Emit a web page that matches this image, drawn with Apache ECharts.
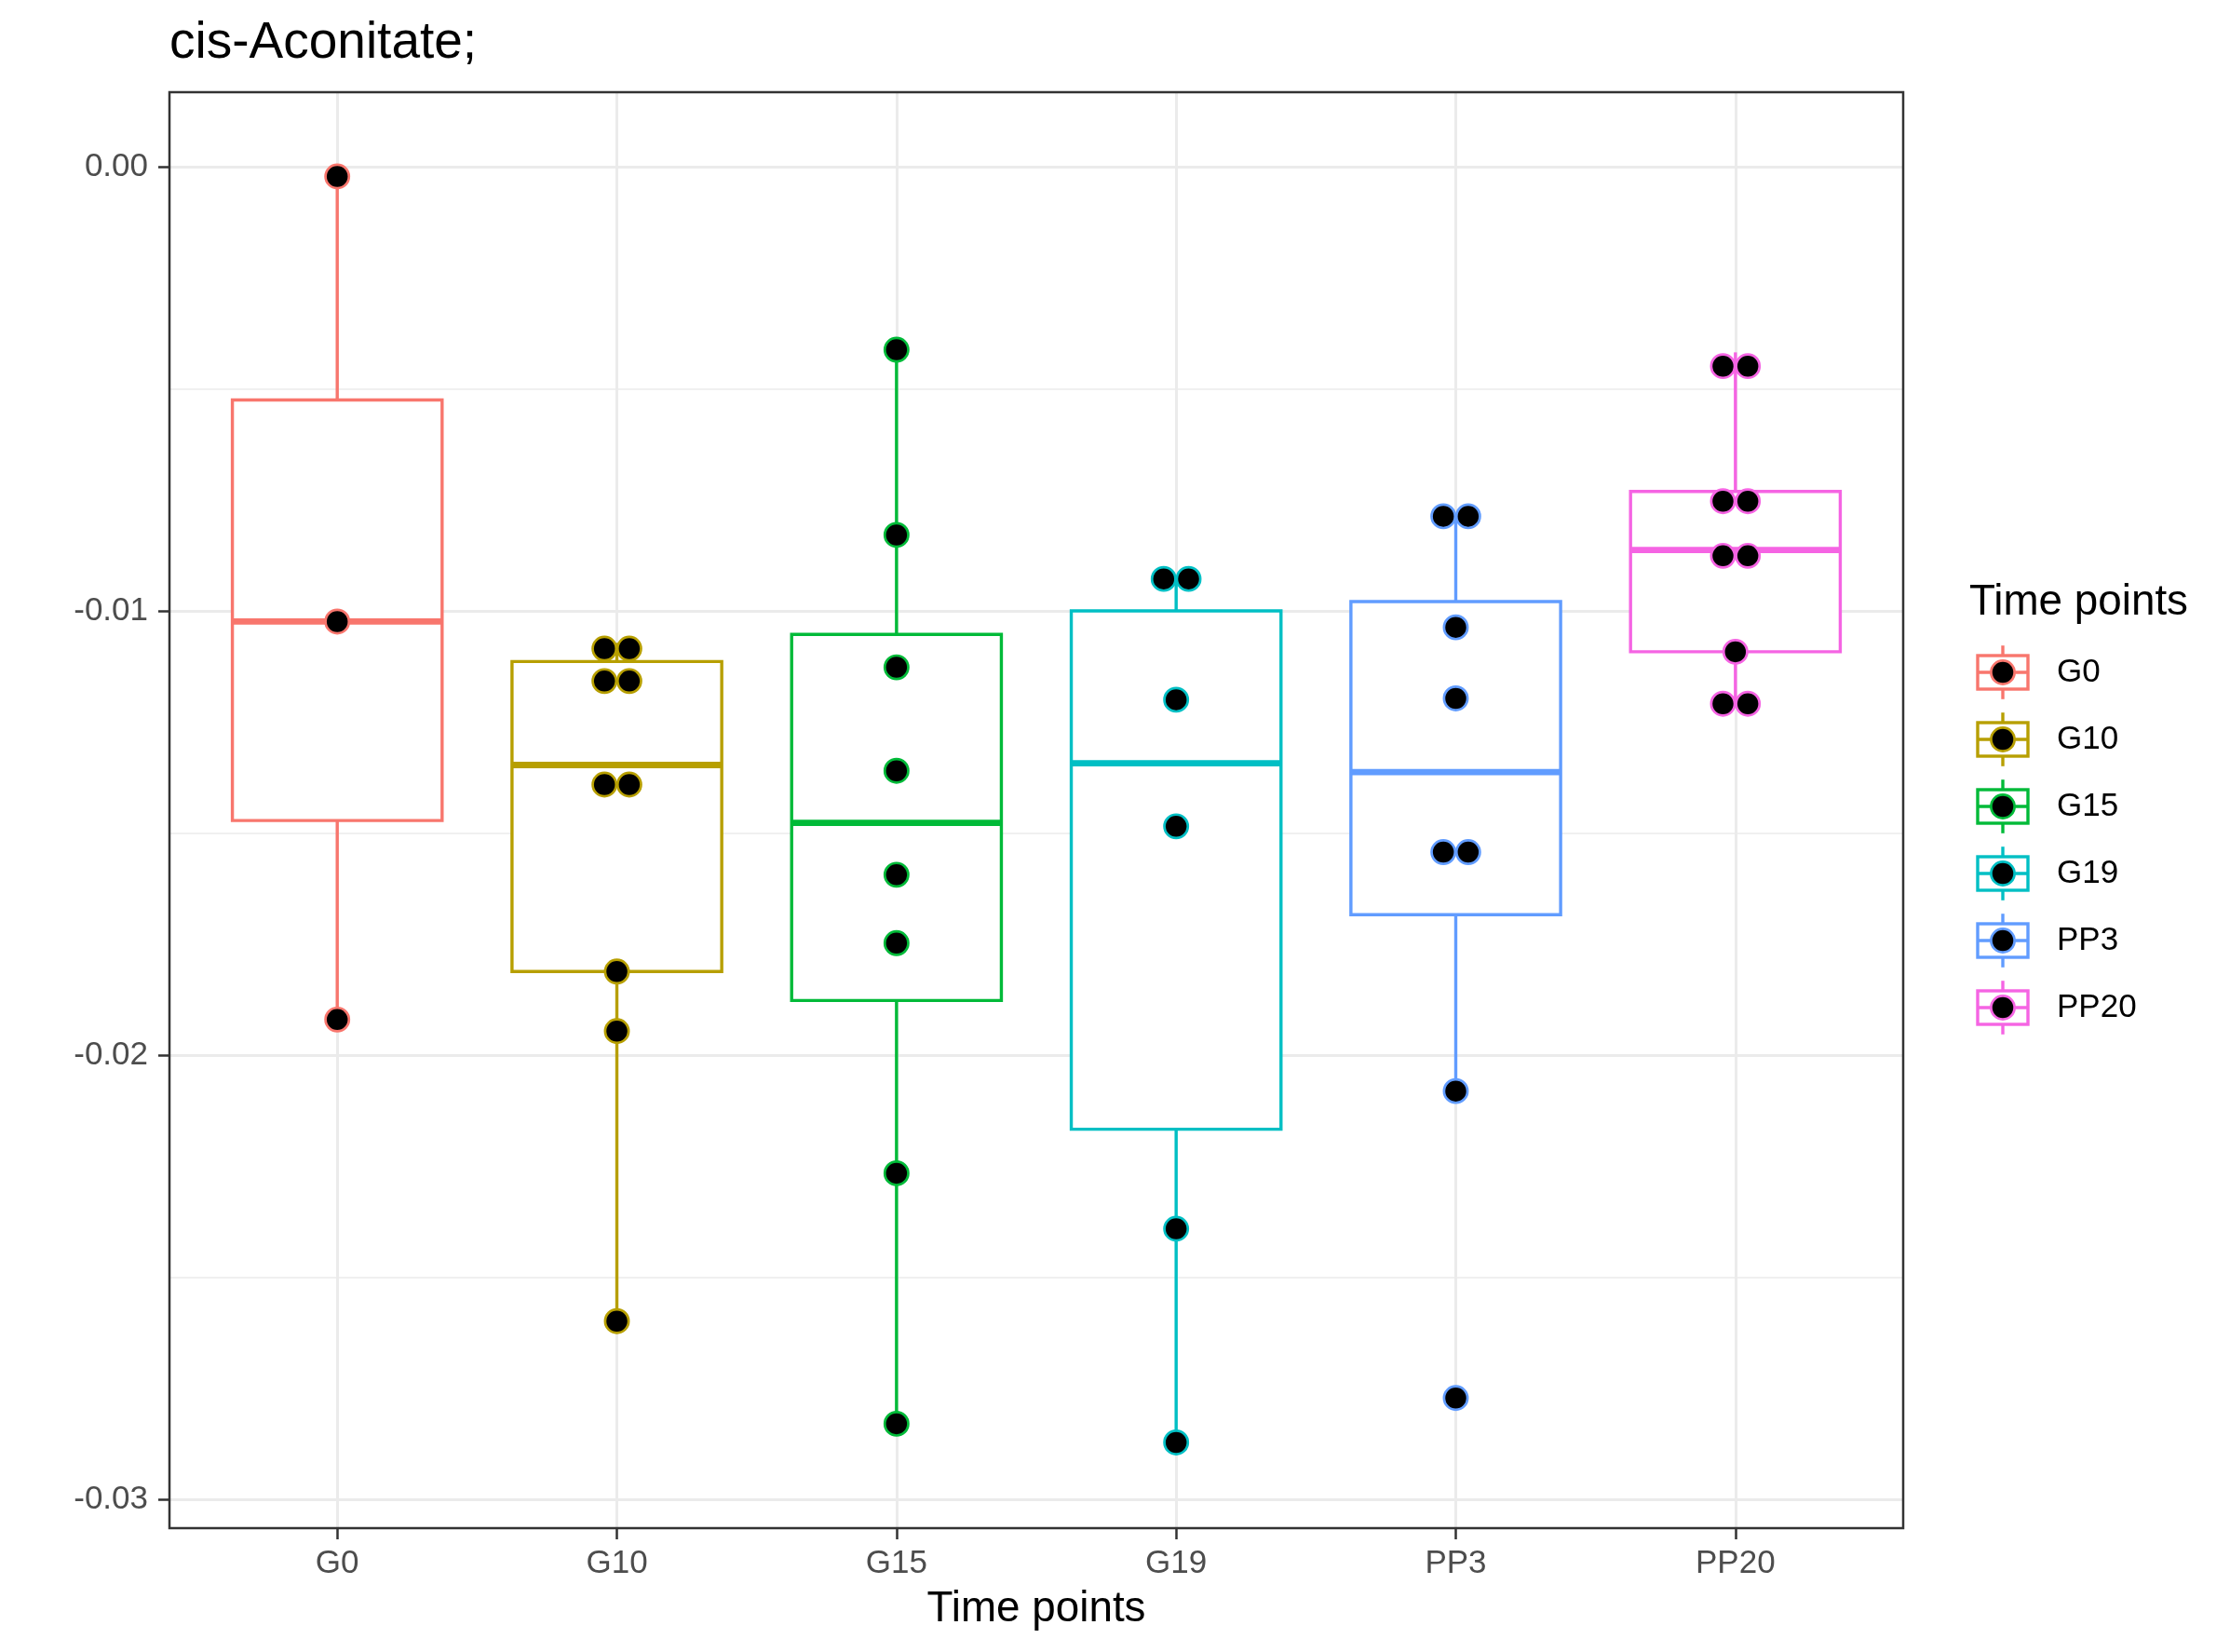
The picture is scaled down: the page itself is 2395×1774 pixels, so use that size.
<!DOCTYPE html>
<html><head><meta charset="utf-8">
<script src="https://cdn.jsdelivr.net/npm/echarts@6/dist/echarts.min.js"></script>
<style>html,body{margin:0;padding:0;background:#fff}#c{width:2395px;height:1774px}</style>
</head><body><div id="c"></div><script>
// ---------- data ----------
const categories = ['G0', 'G10', 'G15', 'G19', 'PP3', 'PP20'];
const colors = ['#F8766D', '#B79F00', '#00BA38', '#00BFC4', '#619CFF', '#F564E3'];
// box statistics per category
const whiskerHigh = [-0.00022, -0.01072, -0.00412, -0.00928, -0.00787, -0.00418];
const upperQuartile = [-0.00525, -0.01114, -0.01053, -0.01000, -0.00979, -0.00731];
const medians = [-0.01024, -0.01347, -0.01477, -0.01343, -0.01363, -0.00863];
const lowerQuartile = [-0.01472, -0.01812, -0.01877, -0.02167, -0.01684, -0.01092];
const whiskerLow = [-0.01920, -0.02599, -0.02830, -0.02872, -0.02081, -0.01215];
// dots per category (equal values are stacked side by side)
const pointsG0 = [-0.00022, -0.01024, -0.01920];
const pointsG10 = [-0.01085, -0.01085, -0.01158, -0.01158, -0.01391, -0.01391, -0.01812, -0.01946, -0.02599];
const pointsG15 = [-0.00412, -0.00829, -0.01127, -0.01360, -0.01594, -0.01748, -0.02266, -0.02830];
const pointsG19 = [-0.00928, -0.00928, -0.01200, -0.01485, -0.02391, -0.02872];
const pointsPP3 = [-0.00787, -0.00787, -0.01037, -0.01197, -0.01543, -0.01543, -0.02081, -0.02772];
const pointsPP20 = [-0.00449, -0.00449, -0.00753, -0.00753, -0.00876, -0.00876, -0.01092, -0.01209, -0.01209];
const yTicks = [0, -0.01, -0.02, -0.03];
const yTickLabels = ['0.00', '-0.01', '-0.02', '-0.03'];

// ---------- layout ----------
const FONT = "'Liberation Sans', Arial, Helvetica, sans-serif";
const P = { left: 182, top: 99, width: 1862, height: 1542 };
const PX_PER_UNIT = 47700;            // pixels per 1.0 of y
const Y_MAX = 80 / PX_PER_UNIT;       // panel top above 0
const Y_MIN = -0.03 - 31 / PX_PER_UNIT;
const X_UNIT = P.width / 6.2;
const DOT_STEP = 26.7;
const LW = 3.4;

const pointSets = [pointsG0, pointsG10, pointsG15, pointsG19, pointsPP3, pointsPP20];

function keySvg(col) {
  return "<svg xmlns='http://www.w3.org/2000/svg' width='72' height='72' viewBox='0 0 72 72'>" +
    "<line x1='36' y1='7.2' x2='36' y2='18' stroke='" + col + "' stroke-width='3.4'/>" +
    "<line x1='36' y1='54' x2='36' y2='64.8' stroke='" + col + "' stroke-width='3.4'/>" +
    "<rect x='9' y='18' width='54' height='36' fill='white' stroke='" + col + "' stroke-width='3.4'/>" +
    "<line x1='9' y1='36' x2='63' y2='36' stroke='" + col + "' stroke-width='3.4'/>" +
    "<circle cx='36' cy='36' r='12.6' fill='black' stroke='" + col + "' stroke-width='2.7'/>" +
    "</svg>";
}

const series = [];
categories.forEach((c, i) => {
  series.push({
    type: 'custom', name: c, xAxisIndex: 0, yAxisIndex: 0, z: 2, silent: true,
    data: [[i + 1, whiskerLow[i], lowerQuartile[i], medians[i], upperQuartile[i], whiskerHigh[i]]],
    renderItem: (params, api) => {
      const x = api.value(0);
      const lo = api.coord([x, api.value(1)]);
      const b = api.coord([x, api.value(2)]);
      const m = api.coord([x, api.value(3)]);
      const t = api.coord([x, api.value(4)]);
      const hi = api.coord([x, api.value(5)]);
      const half = api.size([0.75, 0])[0] / 2;
      const col = colors[i];
      return {
        type: 'group', children: [
          { type: 'line', shape: { x1: lo[0], y1: lo[1], x2: b[0], y2: b[1] }, style: { stroke: col, lineWidth: LW } },
          { type: 'line', shape: { x1: t[0], y1: t[1], x2: hi[0], y2: hi[1] }, style: { stroke: col, lineWidth: LW } },
          { type: 'rect', shape: { x: t[0] - half, y: t[1], width: 2 * half, height: b[1] - t[1] }, style: { fill: '#fff', stroke: col, lineWidth: LW } },
          { type: 'line', shape: { x1: m[0] - half, y1: m[1], x2: m[0] + half, y2: m[1] }, style: { stroke: col, lineWidth: 2 * LW } }
        ]
      };
    }
  });
});
pointSets.forEach((pts, i) => {
  const counts = {}, seen = {};
  pts.forEach(v => { counts[v] = (counts[v] || 0) + 1; });
  const data = pts.map(v => {
    const k = counts[v];
    const j = seen[v] = (seen[v] || 0) + 1;
    return { value: [i + 1, v], symbolOffset: [((j - 1) - (k - 1) / 2) * DOT_STEP, 0] };
  });
  series.push({
    type: 'scatter', name: categories[i], xAxisIndex: 0, yAxisIndex: 0, z: 3, silent: true,
    symbol: 'circle', symbolSize: 25.2,
    itemStyle: { color: '#000', borderColor: colors[i], borderWidth: 2.7, opacity: 1 },
    data
  });
});

const chart = echarts.init(document.getElementById('c'), null, { renderer: 'canvas' });
chart.setOption({
  animation: false,
  backgroundColor: '#ffffff',
  textStyle: { fontFamily: FONT },
  title: [
    { text: 'cis-Aconitate;', left: P.left, top: 19, padding: 0,
      textStyle: { fontSize: 55, fontWeight: 'normal', color: '#000', fontFamily: FONT } },
    { text: 'Time points', left: 2115, top: 624, padding: 0,
      textStyle: { fontSize: 45.8, fontWeight: 'normal', color: '#000', fontFamily: FONT } }
  ],
  legend: {
    orient: 'vertical', left: 2115, top: 686, padding: 0, itemGap: 0,
    itemWidth: 72, itemHeight: 72, selectedMode: false,
    textStyle: { fontSize: 35, color: '#000', fontFamily: FONT, padding: [6, 0, 0, 17] },
    data: categories.map((c, i) => ({ name: c, icon: 'image://data:image/svg+xml;charset=utf-8,' + encodeURIComponent(keySvg(colors[i])) }))
  },
  grid: [
    { left: P.left, top: P.top, width: P.width, height: P.height, show: true, z: 10,
      borderColor: '#333333', borderWidth: 2.5, backgroundColor: 'transparent', containLabel: false, outerBoundsMode: 'none' },
    { left: P.left, top: P.top + Y_MAX * PX_PER_UNIT, width: P.width, height: 0.03 * PX_PER_UNIT, containLabel: false, outerBoundsMode: 'none' },
    { left: P.left + 0.6 * X_UNIT, top: P.top, width: 5 * X_UNIT, height: P.height, containLabel: false, outerBoundsMode: 'none' }
  ],
  xAxis: [
    { gridIndex: 0, type: 'value', min: 0.4, max: 6.6, show: false },
    { gridIndex: 1, type: 'value', min: 0, max: 1, show: false },
    { gridIndex: 2, type: 'category', data: categories, boundaryGap: false, position: 'bottom',
      axisLine: { show: false },
      axisTick: { show: true, interval: 0, length: 12, lineStyle: { color: '#333333', width: 2.5 } },
      axisLabel: { interval: 0, fontSize: 35, color: '#4D4D4D', margin: 21, fontFamily: FONT },
      splitLine: { show: true, interval: 0, lineStyle: { color: '#EBEBEB', width: 3 } },
      name: 'Time points', nameLocation: 'middle', nameGap: 64,
      nameTextStyle: { fontSize: 45.8, color: '#000', fontFamily: FONT } }
  ],
  yAxis: [
    { gridIndex: 0, type: 'value', min: Y_MIN, max: Y_MAX, show: false },
    { gridIndex: 1, type: 'value', min: -0.03, max: 0, interval: 0.01,
      axisLine: { show: false },
      axisTick: { show: true, length: 12, lineStyle: { color: '#333333', width: 2.5 } },
      axisLabel: { fontSize: 35, color: '#4D4D4D', margin: 23, fontFamily: FONT, padding: [3, 0, 0, 0],
        formatter: v => { const k = yTicks.findIndex(t => Math.abs(t - v) < 1e-9); return k >= 0 ? yTickLabels[k] : ''; } },
      splitLine: { show: true, lineStyle: { color: '#EBEBEB', width: 3 } },
      minorTick: { show: false, splitNumber: 2 },
      minorSplitLine: { show: true, lineStyle: { color: '#EBEBEB', width: 1.5 } } },
    { gridIndex: 2, type: 'value', show: false }
  ],
  series
});
</script></body></html>
